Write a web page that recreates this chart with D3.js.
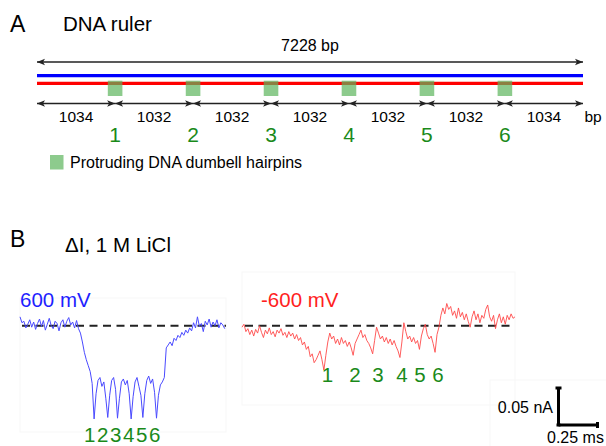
<!doctype html>
<html>
<head>
<meta charset="utf-8">
<script src="https://cdnjs.cloudflare.com/ajax/libs/d3/7.8.5/d3.min.js"></script>
<style>
  body { margin: 0; background: #fff; }
  svg { font-family: Arial, "Liberation Sans", sans-serif; }
</style>
</head>
<body>
<svg width="606" height="446"></svg>
<script>
// ruler data
let totalBp = 7228;
let segmentsBp = [1034, 1032, 1032, 1032, 1032, 1032, 1034];
let hairpinLabels = ["1", "2", "3", "4", "5", "6"];

// current traces, pA relative to open pore level, one sample every 0.0125 ms
let sampleMs = 0.0125;
let trace600 = [12, 4, 6, -3, 2, 8, -2, 5, -5, 3, 9, -1, 7, -6, 2, 10, 0, -4, 6, 3,
  -7, 4, 8, -2, 6, 11, 1, 5, -3, 7, -4, -10, -22, -36, -46, -54, -62, -78, -126, -92,
  -74, -70, -82, -76, -98, -124, -94, -74, -70, -86, -125, -98, -76, -72, -80, -74, -92, -126, -96, -76,
  -70, -82, -94, -124, -92, -74, -68, -78, -72, -90, -125, -94, -80, -76, -70, -30, -26, -22, -27, -17,
  -20, -13, -16, -9, -13, -6, -10, -3, -7, 4, -3, 12, -1, 3, -8, 6, 1, 9, -2, 5,
  0, 8, -3, 4, 1, -4];
let traceNeg600 = [-2, 2, -8, -4, -12, -6, -14, -5, -10, 0, -9, -16, -6, -11, -3, -12, -8, -15, -6, -10,
  -4, -13, -9, -16, -8, -14, -10, -18, -12, -20, -16, -26, -22, -32, -28, -42, -38, -50, -46, -40,
  -34, -46, -60, -40, -22, -10, -18, -14, -24, -18, -26, -16, -24, -20, -28, -22, -30, -40, -24, -18,
  -12, -6, -16, -12, -20, -24, -30, -38, -20, -2, -10, -18, -14, -22, -16, -24, -18, -26, -20, -28,
  -34, -43, -22, 4, -8, -18, -14, -22, -16, -24, -20, -32, -14, -4, 2, -12, -18, -14, -24, -36,
  -12, -2, 14, 24, 16, 30, 22, 26, 14, 20, 10, 24, 12, 18, 8, 16, 6, -2, 12, 20,
  8, 16, 4, 14, 10, 22, 28, 12, 6, 14, -4, 8, 16, 4, 12, 2, 14, 8, 16, 10, 12];
let eventTimesNeg600 = [0.548, 0.724, 0.872, 1.026, 1.141, 1.256];
let scaleBarPa = 50, scaleBarMs = 0.25;

const svg = d3.select("svg");
const green = "#1a8a1a";

svg.append("defs").append("marker")
  .attr("id", "arr")
  .attr("viewBox", "0 0 10 10")
  .attr("refX", 10).attr("refY", 5)
  .attr("markerUnits", "userSpaceOnUse")
  .attr("markerWidth", 9).attr("markerHeight", 8)
  .attr("orient", "auto-start-reverse")
  .append("path")
  .attr("d", "M0,1 L10,5 L0,9 L2.5,5 Z")
  .attr("fill", "#222");

// ---------- panel A ----------
svg.append("text").attr("x", 10).attr("y", 31.5).attr("font-size", 23).text("A");
svg.append("text").attr("x", 63).attr("y", 30.5).attr("font-size", 20.5).text("DNA ruler");

const xBp = d3.scaleLinear().domain([0, totalBp]).range([37, 583]);

svg.append("text").attr("x", xBp(totalBp / 2)).attr("y", 51).attr("text-anchor", "middle")
  .attr("font-size", 16).text(totalBp + " bp");
svg.append("line").attr("x1", xBp(0)).attr("x2", xBp(totalBp)).attr("y1", 62).attr("y2", 62)
  .attr("stroke", "#222").attr("stroke-width", 1.4)
  .attr("marker-start", "url(#arr)").attr("marker-end", "url(#arr)");

svg.append("line").attr("x1", xBp(0)).attr("x2", xBp(totalBp)).attr("y1", 75.7).attr("y2", 75.7)
  .attr("stroke", "#0000ff").attr("stroke-width", 3.2);
svg.append("line").attr("x1", xBp(0)).attr("x2", xBp(totalBp)).attr("y1", 83.3).attr("y2", 83.3)
  .attr("stroke", "#ff0000").attr("stroke-width", 3.2);

let bounds = [0];
segmentsBp.forEach(s => bounds.push(bounds[bounds.length - 1] + s));
let segs = segmentsBp.map((s, i) => ({ len: s, start: bounds[i], end: bounds[i + 1] }));
let hairpins = bounds.slice(1, -1);

svg.selectAll("rect.hp").data(hairpins).enter().append("rect")
  .attr("class", "hp")
  .attr("x", d => xBp(d) - 7.3).attr("y", 80.7)
  .attr("width", 14.6).attr("height", 15.3)
  .attr("fill", "#5cb55c").attr("fill-opacity", 0.7);

svg.selectAll("line.seg").data(segs).enter().append("line")
  .attr("class", "seg")
  .attr("x1", d => xBp(d.start)).attr("x2", d => xBp(d.end))
  .attr("y1", 103.5).attr("y2", 103.5)
  .attr("stroke", "#222").attr("stroke-width", 1.4)
  .attr("marker-start", "url(#arr)").attr("marker-end", "url(#arr)");

svg.selectAll("text.seg").data(segs).enter().append("text")
  .attr("class", "seg")
  .attr("x", d => xBp((d.start + d.end) / 2)).attr("y", 122)
  .attr("text-anchor", "middle").attr("font-size", 15.5)
  .text(d => d.len);
svg.append("text").attr("x", xBp(totalBp) + 1.5).attr("y", 122).attr("font-size", 15.5).text("bp");

svg.selectAll("text.hpnum").data(hairpins).enter().append("text")
  .attr("class", "hpnum")
  .attr("x", d => xBp(d)).attr("y", 141.5)
  .attr("text-anchor", "middle").attr("font-size", 21).attr("fill", green)
  .text((d, i) => hairpinLabels[i]);

svg.append("rect").attr("x", 50).attr("y", 155).attr("width", 13.5).attr("height", 14.5)
  .attr("fill", "#5cb55c").attr("fill-opacity", 0.7);
svg.append("text").attr("x", 70).attr("y", 168).attr("font-size", 16)
  .text("Protruding DNA dumbell hairpins");

// ---------- panel B ----------
svg.append("text").attr("x", 10).attr("y", 246.5).attr("font-size", 23).text("B");
svg.append("text").attr("x", 65).attr("y", 251.5).attr("font-size", 20.5).text("\u0394I, 1 M LiCl");

// faint frames
[[20, 298, 206, 134], [242, 272, 273, 133], [490, 380, 120, 70]].forEach(b => {
  svg.append("rect").attr("x", b[0]).attr("y", b[1]).attr("width", b[2]).attr("height", b[3])
    .attr("fill", "none").attr("stroke", "#f7f7f7").attr("stroke-width", 1);
});

const pxPerMs = 156;
const y = d3.scaleLinear().domain([0, -scaleBarPa]).range([325.7, 362.7]);
const xBlue = d3.scaleLinear().domain([0, 1]).range([20, 20 + pxPerMs]);
const xRed = d3.scaleLinear().domain([0, 1]).range([242, 242 + pxPerMs]);

// dashed open pore levels
svg.append("line").attr("x1", 22).attr("x2", 226).attr("y1", y(0)).attr("y2", y(0))
  .attr("stroke", "#222").attr("stroke-width", 2).attr("stroke-dasharray", "8,5.5");
svg.append("line").attr("x1", 245).attr("x2", 512).attr("y1", y(0)).attr("y2", y(0))
  .attr("stroke", "#222").attr("stroke-width", 2).attr("stroke-dasharray", "8,5.5");

svg.append("path").datum(trace600)
  .attr("d", d3.line().x((d, i) => xBlue(i * sampleMs)).y(d => y(d)))
  .attr("fill", "none").attr("stroke", "#4a4aff").attr("stroke-width", 1);
svg.append("path").datum(traceNeg600)
  .attr("d", d3.line().x((d, i) => xRed(i * sampleMs)).y(d => y(d)))
  .attr("fill", "none").attr("stroke", "#ff4a4a").attr("stroke-width", 0.9);

svg.append("text").attr("x", 20).attr("y", 307).attr("font-size", 20.5).attr("fill", "#1f1fff").text("600 mV");
svg.append("text").attr("x", 261).attr("y", 307).attr("font-size", 20.5).attr("fill", "#ff1f1f").text("-600 mV");

svg.append("text").attr("x", xBlue(0.41)).attr("y", 442).attr("font-size", 20.5)
  .attr("letter-spacing", 1.6).attr("fill", green).text(hairpinLabels.join(""));

svg.selectAll("text.ev").data(eventTimesNeg600).enter().append("text")
  .attr("class", "ev")
  .attr("x", d => xRed(d)).attr("y", 382)
  .attr("text-anchor", "middle").attr("font-size", 20.5).attr("fill", green)
  .text((d, i) => hairpinLabels[i]);

// scale bar
const sbX = 558.5, sbY = 425;
const sbH = y(-scaleBarPa) - y(0), sbW = xRed(scaleBarMs) - xRed(0);
const sb = svg.append("g").attr("stroke", "#000").attr("stroke-width", 3);
sb.append("line").attr("x1", sbX).attr("x2", sbX).attr("y1", sbY - sbH).attr("y2", sbY);
sb.append("line").attr("x1", sbX).attr("x2", sbX + sbW).attr("y1", sbY).attr("y2", sbY);
sb.append("line").attr("x1", sbX - 3).attr("x2", sbX + 3).attr("y1", sbY - sbH).attr("y2", sbY - sbH);
sb.append("line").attr("x1", sbX + sbW).attr("x2", sbX + sbW).attr("y1", sbY - 3).attr("y2", sbY + 3);
sb.append("line").attr("x1", sbX - 2).attr("x2", sbX + 2).attr("y1", sbY).attr("y2", sbY);

svg.append("text").attr("x", 553).attr("y", 412.5).attr("text-anchor", "end").attr("font-size", 16)
  .text((scaleBarPa / 1000) + " nA");
svg.append("text").attr("x", 547).attr("y", 443).attr("font-size", 16).text(scaleBarMs + " ms");
</script>
</body>
</html>
